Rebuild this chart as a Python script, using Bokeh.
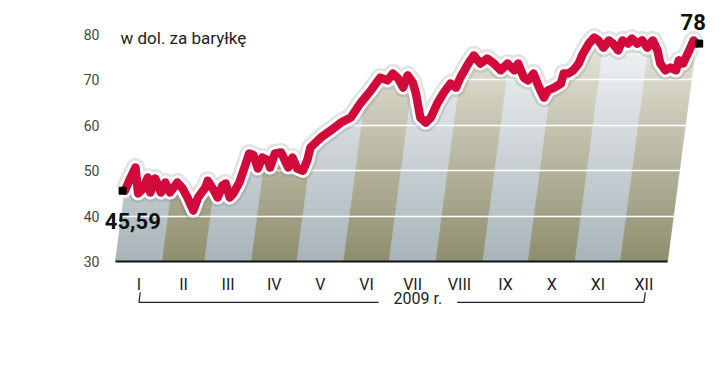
from bokeh.plotting import figure
from bokeh.models import FixedTicker, Label, Arrow
from bokeh.embed import file_html
from bokeh.resources import INLINE

# ---- data ----
days = [0, 2, 5, 9, 12, 14, 17, 19, 24, 26, 30, 34, 38, 42, 47, 49, 53, 54, 59, 62,
        64, 66, 70, 72, 75, 77, 79, 82, 86, 88, 92, 94, 96, 100, 102, 106, 108, 112, 116, 118,
        119, 125, 131, 137, 143, 148, 154, 159, 164, 167, 171, 175, 177, 181, 184, 189, 193, 196, 199, 202,
        206, 210, 212, 216, 219, 224, 228, 233, 238, 242, 247, 249, 254, 257, 260, 265, 269, 271, 275, 279,
        280, 283, 286, 289, 291, 294, 297, 300, 304, 307, 310, 314, 316, 320, 322, 326, 329, 333, 336, 340,
        343, 347, 350, 354, 355, 358, 361, 363, 365]
prices = [45.59, 47.8, 50.7, 45.0, 46.1, 48.5, 45.2, 48.3, 45.2, 47.4, 45.2, 47.4, 46.1, 44.1, 41.2, 44.1, 46.3, 47.8, 45.6, 44.1,
          46.7, 47.2, 44.1, 45.0, 47.4, 50.5, 53.8, 53.4, 50.5, 52.9, 52.3, 50.7, 53.8, 54.0, 52.9, 50.7, 52.9, 50.5, 50.0, 52.3,
          55.1, 57.3, 58.9, 60.6, 61.7, 64.8, 67.7, 70.5, 69.9, 71.4, 70.3, 68.3, 71.0, 69.4, 67.0, 61.7, 60.6, 61.7, 64.8, 67.0,
          69.2, 68.3, 70.5, 73.6, 75.4, 73.6, 74.7, 73.6, 72.1, 73.6, 72.1, 73.6, 70.5, 69.9, 71.4, 68.3, 66.1, 67.7, 68.3, 69.2,
          71.4, 71.4, 72.1, 73.6, 75.8, 78.0, 79.3, 78.7, 77.1, 78.7, 78.0, 76.5, 78.7, 78.0, 79.1, 78.0, 78.7, 77.1, 78.7, 76.5,
          73.6, 72.1, 72.7, 72.1, 74.3, 73.6, 76.5, 78.7, 78.0]
month_labels = ["I", "II", "III", "IV", "V", "VI", "VII", "VIII", "IX", "X", "XI", "XII"]
month_starts = [0, 31, 59, 90, 120, 151, 181, 212, 243, 273, 304, 334, 365]
y_ticks = [30, 40, 50, 60, 70, 80]
grid_values = [40, 50, 60, 70]
start_label = "45,59"
end_label = "78"
unit_label = "w dol. za baryłkę"
year_label = "2009 r."

# ---- layout constants (pixels) ----
W, H = 712, 377
BORDER_L, BORDER_B = 40, 40
PX_DAY0, PX_PER_DAY = 115.0, 1.512      # where day 0 sits, horizontal scale
PY_BASE, PX_PER_USD = 261.0, 4.54       # where $30 sits, vertical scale
Y0 = 30.0
SHEAR = 0.397          # days of horizontal skew per dollar
YEAR_X = 200
YEAR_GAP = 26
BRACKET_Y = 21.0
BRACKET_TICK = 23.2
N_LEVELS = 25

x_lo = (BORDER_L - PX_DAY0) / PX_PER_DAY
x_hi = (W - PX_DAY0) / PX_PER_DAY
y_hi = Y0 + PY_BASE / PX_PER_USD
y_lo = Y0 - (H - BORDER_B - PY_BASE) / PX_PER_USD


def sx(d, v):
    return d + SHEAR * (v - Y0)


p = figure(width=W, height=H, x_range=(x_lo, x_hi), y_range=(y_lo, y_hi),
           output_backend="svg", toolbar_location=None,
           min_border_left=BORDER_L, min_border_right=0, min_border_top=0,
           min_border_bottom=BORDER_B)
p.outline_line_color = None
p.grid.visible = False
p.background_fill_color = "white"
p.border_fill_color = "white"

# ---- slanted month stripes with vertical gradient ----
base_cols = [(168, 180, 186), (142, 141, 110)]
top_cols = [(242, 244, 245), (232, 232, 220)]
stripe_top = max(prices)
step = (stripe_top - Y0) / N_LEVELS
xs, ys, cols = [], [], []
for m in range(12):
    d0, d1 = month_starts[m], month_starts[m + 1]
    b, t = base_cols[m % 2], top_cols[m % 2]
    for k in range(N_LEVELS):
        v0 = Y0 + k * step
        v1 = v0 + step
        f = min(1.0, (v0 + step / 2 - Y0) / (stripe_top - Y0))
        c = tuple(int(round(b[i] + (t[i] - b[i]) * f)) for i in range(3))
        hexc = "#%02x%02x%02x" % c
        xs.append([sx(d0, v0), sx(d1, v0), sx(d1, v1), sx(d0, v1)])
        ys.append([v0, v0, v1, v1])
        cols.append(hexc)
p.patches(xs, ys, fill_color=cols, line_color=cols, line_width=0.8)

# white grid lines
p.hspan(y=grid_values, line_color="white", line_width=1.5)

# white mask above the curve
xsk = [sx(d, v) for d, v in zip(days, prices)]
p.varea(x=xsk, y1=prices, y2=[y_hi] * len(prices), fill_color="white")

# line: shadow, halo, red
p.line(xsk, prices, line_color="#707070", line_alpha=0.2, line_width=19, line_join="round")
p.line(xsk, prices, line_color="white", line_width=14, line_join="round", line_cap="round")
p.line(xsk, prices, line_color="#d20a3c", line_width=8.5, line_join="round", line_cap="round")

# end markers
p.scatter([xsk[0] - 1.5, xsk[-1] + 2], [prices[0], prices[-1]], marker="square", size=7,
          fill_color="black", line_color="black")

# ---- axes (drawn inside the frame) ----
centers = [(month_starts[i] + month_starts[i + 1]) / 2 for i in range(12)]
p.xaxis.fixed_location = Y0
p.xaxis.ticker = FixedTicker(ticks=centers)
p.xaxis.major_label_overrides = {c: lab for c, lab in zip(centers, month_labels)}
p.xaxis.bounds = (0, 365)
p.xaxis.axis_line_color = "#111111"
p.xaxis.axis_line_width = 2
p.xaxis.major_tick_line_color = None
p.xaxis.minor_tick_line_color = None
p.xaxis.major_label_standoff = 7
p.xaxis.major_label_text_font = "Roboto"
p.xaxis.major_label_text_font_size = "16px"
p.xaxis.major_label_text_color = "#222222"

p.yaxis.fixed_location = (110 - PX_DAY0) / PX_PER_DAY
p.yaxis.ticker = FixedTicker(ticks=y_ticks)
p.yaxis.axis_line_color = None
p.yaxis.major_tick_line_color = None
p.yaxis.minor_tick_line_color = None
p.yaxis.major_label_standoff = 5
p.yaxis.major_label_text_font = "Roboto"
p.yaxis.major_label_text_font_size = "14px"
p.yaxis.major_label_text_color = "#444444"

# ---- texts ----
p.add_layout(Label(x=0, y=y_ticks[-1], text=unit_label, x_offset=5, y_offset=-3,
                   text_baseline="middle", text_font="Roboto", text_font_size="17px",
                   text_color="#222222"))
p.add_layout(Label(x=xsk[-1], y=prices[-1], text=end_label, x_offset=-3, y_offset=14,
                   text_align="center", text_baseline="bottom", text_font="Roboto",
                   text_font_style="bold", text_font_size="22px", text_color="#111111"))
p.add_layout(Label(x=xsk[0], y=prices[0], text=start_label, x_offset=-20, y_offset=-22,
                   text_align="left", text_baseline="top", text_font="Roboto",
                   text_font_style="bold", text_font_size="22px", text_color="#111111"))
p.add_layout(Label(x=YEAR_X, y=BRACKET_Y, text=year_label, text_align="center",
                   text_baseline="middle", y_offset=4, text_font="Roboto",
                   text_font_size="16px", text_color="#222222"))

# bracket
c0, c1 = centers[0], centers[-1]
dt = SHEAR * (BRACKET_TICK - BRACKET_Y)
for (xa, ya, xb, yb) in [(c0 + dt, BRACKET_TICK, c0, BRACKET_Y),
                         (c0, BRACKET_Y, YEAR_X - YEAR_GAP, BRACKET_Y),
                         (YEAR_X + YEAR_GAP, BRACKET_Y, c1, BRACKET_Y),
                         (c1, BRACKET_Y, c1 + dt, BRACKET_TICK)]:
    p.add_layout(Arrow(x_start=xa, y_start=ya, x_end=xb, y_end=yb, end=None,
                       line_color="#222222", line_width=1.2))

open("out.html", "w").write(file_html(p, INLINE))
